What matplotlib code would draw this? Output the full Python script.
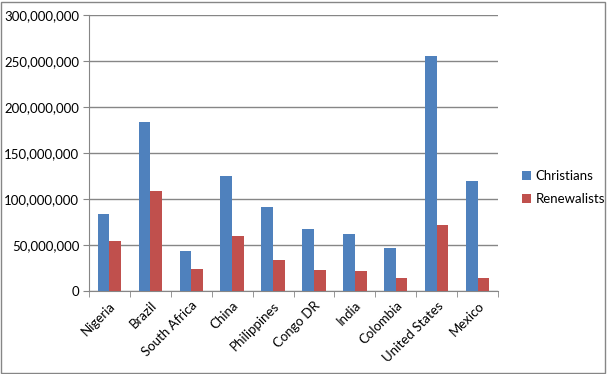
import numpy as np
import matplotlib.pyplot as plt
from matplotlib.ticker import FuncFormatter
from matplotlib.patches import Rectangle

countries = ['Nigeria', 'Brazil', 'South Africa', 'China', 'Philippines',
             'Congo DR', 'India', 'Colombia', 'United States', 'Mexico']
christians = [83.7e6, 183.7e6, 43.5e6, 125.0e6, 91.3e6,
              67.4e6, 62.0e6, 46.7e6, 255.4e6, 119.6e6]
renewalists = [54.3e6, 108.7e6, 23.9e6, 59.8e6, 33.7e6,
               22.8e6, 21.7e6, 14.1e6, 71.7e6, 14.1e6]

plt.rcParams['font.family'] = ['Lato', 'DejaVu Sans']

fig = plt.figure(figsize=(6.09, 3.74), dpi=100)
ax = fig.add_axes([89 / 609, 1 - 291 / 374, 409 / 609, 275.7 / 374])

x = np.arange(len(countries))
w = 1 / 3.5
ax.bar(x - w / 2, christians, w, color='#4F81BD', label='Christians', zorder=3)
ax.bar(x + w / 2, renewalists, w, color='#C0504D', label='Renewalists', zorder=3)

ax.set_xlim(-0.5, len(countries) - 0.5)
ax.set_ylim(0, 300e6)
ax.set_yticks(np.arange(0, 300e6 + 1, 50e6))
ax.yaxis.set_major_formatter(FuncFormatter(lambda v, p: f'{int(v):,}'))
ax.yaxis.grid(True, color='#868686', linewidth=1, zorder=0)

ax.set_xticks(x)
ax.set_xticklabels(countries, rotation=45, ha='right', rotation_mode='anchor')
ax.set_xticks(np.arange(-0.5, len(countries)), minor=True)
ax.tick_params(axis='x', which='major', length=0, pad=6, labelsize=9.5)
ax.tick_params(axis='x', which='minor', length=4, color='#868686', direction='out')
ax.tick_params(axis='y', length=4, color='#868686', labelsize=9.5, pad=3)

for s in ['top', 'right']:
    ax.spines[s].set_visible(False)
for s in ['left', 'bottom']:
    ax.spines[s].set_color('#868686')

ax.legend(loc='center left', bbox_to_anchor=(1.03, 0.375), frameon=False,
          fontsize=9.5, handlelength=0.7, handleheight=0.7, handletextpad=0.3,
          labelspacing=0.85)

fig.patches.append(Rectangle((1 / 609, 1 / 374), 604 / 609, 371 / 374,
                             transform=fig.transFigure, fill=False,
                             edgecolor='#868686', linewidth=1))

fig.savefig('out.png', dpi=100)
